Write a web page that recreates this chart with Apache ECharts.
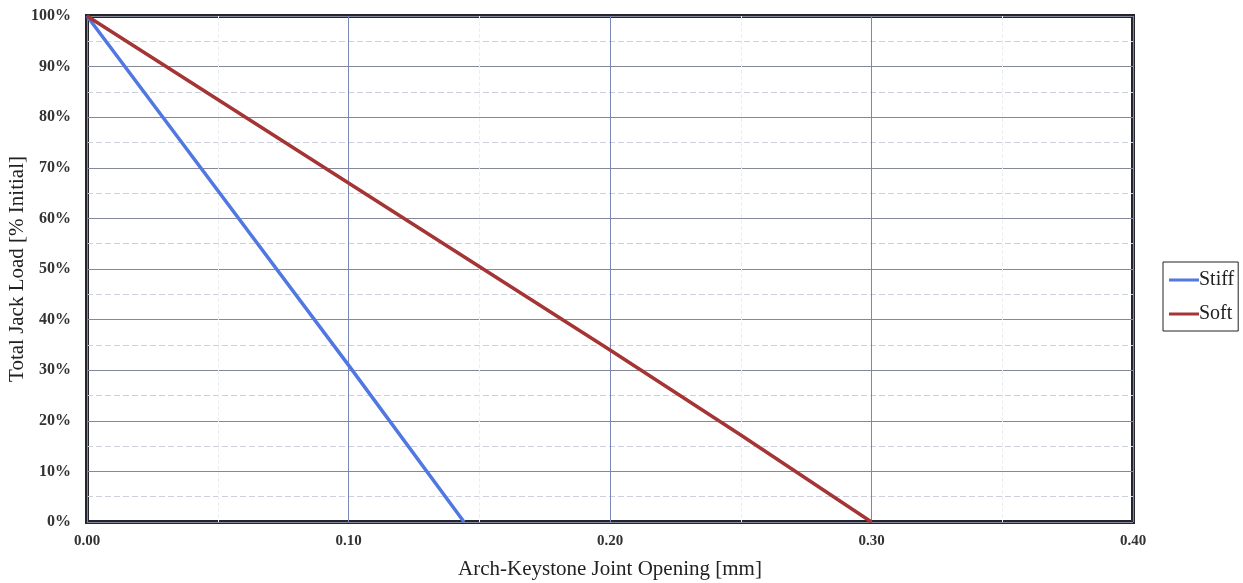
<!DOCTYPE html>
<html>
<head>
<meta charset="utf-8">
<script src="https://cdn.jsdelivr.net/npm/echarts@6/dist/echarts.min.js"></script>
<style>
html,body{margin:0;padding:0;background:#fff;}
#chart{width:1243px;height:583px;}
</style>
</head>
<body>
<div id="chart"></div>
<script>
// Data
const seriesNames = ['Stiff', 'Soft'];
const stiffX = [0, 0.05, 0.10, 0.1442];
const stiffY = [100, 65.5, 31, 0];
const softX = [0, 0.05, 0.10, 0.15, 0.20, 0.25, 0.30];
const softY = [100, 83.5, 67, 50.5, 34, 17.2, 0];
const xTickLabels = ['0.00', '0.10', '0.20', '0.30', '0.40'];
const yTickLabels = ['0%', '10%', '20%', '30%', '40%', '50%', '60%', '70%', '80%', '90%', '100%'];

const pairs = (xs, ys) => xs.map((x, i) => [x, ys[i]]);
const serif = '"Liberation Serif", "DejaVu Serif", serif';

const chart = echarts.init(document.getElementById('chart'));
chart.setOption({
  animation: false,
  backgroundColor: '#ffffff',
  grid: {
    left: 87, right: 110, top: 16, bottom: 61,
    outerBoundsMode: 'none',
    containLabel: false,
    show: true, borderColor: '#25252f', borderWidth: 4, backgroundColor: '#ffffff'
  },
  legend: {
    orient: 'vertical',
    left: 1163,
    top: 262,
    data: seriesNames,
    icon: 'rect',
    itemWidth: 30,
    itemHeight: 3,
    itemGap: 14,
    borderColor: '#222',
    borderWidth: 1,
    padding: [8, 4, 7, 6],
    textStyle: { fontFamily: serif, fontSize: 20, color: '#222', padding: [0, 0, 0, -5] }
  },
  xAxis: {
    type: 'value',
    min: 0, max: 0.4, interval: 0.1,
    name: 'Arch-Keystone Joint Opening [mm]',
    nameLocation: 'middle',
    nameGap: 37,
    nameTextStyle: { fontFamily: serif, fontSize: 21, color: '#222' },
    axisLine: { show: false },
    axisTick: { show: false },
    axisLabel: {
      fontFamily: serif, fontSize: 15, fontWeight: 'bold', color: '#333', margin: 12,
      formatter: (v) => xTickLabels[Math.round(v * 10)]
    },
    splitLine: { show: true, lineStyle: { color: '#7a86b4', width: 1 } },
    minorTick: { show: false, splitNumber: 2 },
    minorSplitLine: { show: true, lineStyle: { color: '#eceef3', width: 1, type: 'dashed' } }
  },
  yAxis: {
    type: 'value',
    min: 0, max: 100, interval: 10,
    name: 'Total Jack Load [% Initial]',
    nameLocation: 'middle',
    nameGap: 59,
    nameMoveOverlap: false,
    nameTextStyle: { fontFamily: serif, fontSize: 21, color: '#222' },
    axisLine: { show: false },
    axisTick: { show: false },
    axisLabel: {
      fontFamily: serif, fontSize: 16, fontWeight: 'bold', color: '#333', margin: 16,
      formatter: (v) => yTickLabels[Math.round(v / 10)]
    },
    splitLine: { show: true, lineStyle: { color: '#85889a', width: 1 } },
    minorTick: { show: false, splitNumber: 2 },
    minorSplitLine: { show: true, lineStyle: { color: '#ccd0dc', width: 1, type: [6, 3] } }
  },
  series: [
    {
      name: 'Stiff', type: 'line', data: pairs(stiffX, stiffY),
      showSymbol: false, lineStyle: { color: '#5077e2', width: 3.5 },
      itemStyle: { color: '#5077e2' }, z: 3
    },
    {
      name: 'Soft', type: 'line', data: pairs(softX, softY),
      showSymbol: false, lineStyle: { color: '#a53434', width: 3.5 },
      itemStyle: { color: '#a53434' }, z: 4
    }
  ]
});
</script>
</body>
</html>
